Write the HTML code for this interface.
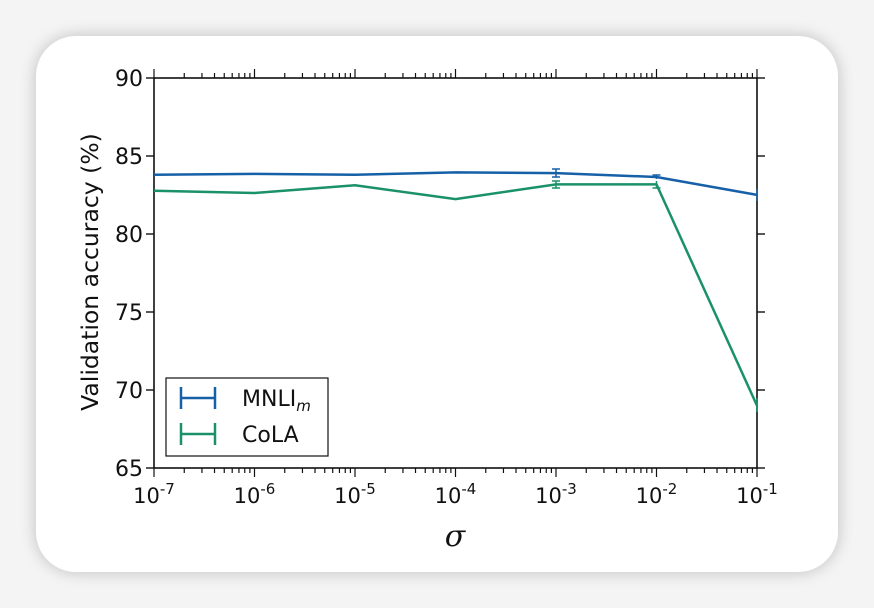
<!DOCTYPE html>
<html><head><style>
body{margin:0;width:874px;height:608px;background:#f4f4f4;overflow:hidden;font-family:"DejaVu Sans","Liberation Sans",sans-serif}
.card{position:absolute;left:36px;top:36px;width:802px;height:536px;background:#fff;border-radius:40px;box-shadow:0 0 16px rgba(0,0,0,0.22)}
svg{position:absolute;left:0;top:0}
</style></head><body>
<div class="card"></div>
<svg width="874" height="608" viewBox="0 0 874 608">
<g font-family="DejaVu Sans, Liberation Sans, sans-serif" fill="#111">
<rect x="154" y="78" width="603" height="390" fill="none" stroke="#111" stroke-width="1.6"/>
<g stroke="#111" stroke-width="1.4">
<line x1="146" y1="78" x2="154" y2="78"/><line x1="146" y1="156" x2="154" y2="156"/><line x1="146" y1="234" x2="154" y2="234"/><line x1="146" y1="312" x2="154" y2="312"/><line x1="146" y1="390" x2="154" y2="390"/><line x1="146" y1="468" x2="154" y2="468"/>
<line x1="757" y1="78" x2="765" y2="78"/><line x1="757" y1="156" x2="765" y2="156"/><line x1="757" y1="234" x2="765" y2="234"/><line x1="757" y1="312" x2="765" y2="312"/><line x1="757" y1="390" x2="765" y2="390"/><line x1="757" y1="468" x2="765" y2="468"/>
</g>
<g stroke="#111" stroke-width="1.2" id="xt"></g>
<g font-size="22" text-anchor="end">
<text x="143" y="86">90</text><text x="143" y="164">85</text><text x="143" y="242">80</text><text x="143" y="320">75</text><text x="143" y="398">70</text><text x="143" y="476">65</text>
</g>
<g font-size="21" text-anchor="middle" id="xl"></g>
<text transform="translate(98,272) rotate(-90)" font-size="23.5" text-anchor="middle">Validation accuracy (%)</text>
<text x="455" y="546" font-size="30" font-style="italic" font-family="DejaVu Serif, Liberation Serif, serif" text-anchor="middle">σ</text>
<polyline fill="none" stroke="#1a9168" stroke-width="2.5" points="154,190.7 254.5,193 355,185.3 455.5,199.1 556,184.4 656.5,184.4 757,405.6"/>
<polyline fill="none" stroke="#1660a8" stroke-width="2.5" points="154,174.7 254.5,173.9 355,174.7 455.5,172.4 556,173.1 656.5,177 757,194.9"/>
<g stroke="#1660a8" stroke-width="1.5"><line x1="556" y1="169" x2="556" y2="177"/><line x1="552" y1="169" x2="560" y2="169"/><line x1="552" y1="177" x2="560" y2="177"/><line x1="656.5" y1="175" x2="656.5" y2="179"/><line x1="652.5" y1="175" x2="660.5" y2="175"/><line x1="757" y1="189" x2="757" y2="201"/></g>
<g stroke="#1a9168" stroke-width="1.5"><line x1="556" y1="181" x2="556" y2="188"/><line x1="552" y1="181" x2="560" y2="181"/><line x1="552" y1="188" x2="560" y2="188"/><line x1="656.5" y1="181" x2="656.5" y2="188"/><line x1="652.5" y1="188" x2="660.5" y2="188"/><line x1="757" y1="398" x2="757" y2="412"/></g>
<rect x="166" y="378" width="162" height="78" fill="#fff" stroke="#111" stroke-width="1.2"/>
<g stroke="#1660a8" stroke-width="2.5"><line x1="180" y1="398" x2="216" y2="398"/><line x1="181" y1="387" x2="181" y2="409"/><line x1="215" y1="387" x2="215" y2="409"/></g>
<g stroke="#1a9168" stroke-width="2.5"><line x1="180" y1="434" x2="216" y2="434"/><line x1="181" y1="423" x2="181" y2="445"/><line x1="215" y1="423" x2="215" y2="445"/></g>
<text x="242" y="406" font-size="22">MNLI<tspan font-size="15" font-style="italic" dy="5">m</tspan></text>
<text x="242" y="442" font-size="22">CoLA</text>
</g>
</svg>
<script>
var ns="http://www.w3.org/2000/svg",g=document.getElementById('xt'),l=document.getElementById('xl');
function ln(a,b,c,d){var e=document.createElementNS(ns,'line');e.setAttribute('x1',a);e.setAttribute('y1',b);e.setAttribute('x2',c);e.setAttribute('y2',d);g.appendChild(e);}
for(var i=0;i<7;i++){var x=154+i*100.5;ln(x,69,x,78);ln(x,468,x,477);
var t=document.createElementNS(ns,'text');t.setAttribute('x',x);t.setAttribute('y',503);t.innerHTML='10<tspan font-size="15" dy="-9">-'+(7-i)+'</tspan>';l.appendChild(t);
if(i<6)for(var k=2;k<10;k++){var xm=x+Math.log10(k)*100.5;ln(xm,73,xm,78);ln(xm,468,xm,473);}}
</script>
</body></html>
